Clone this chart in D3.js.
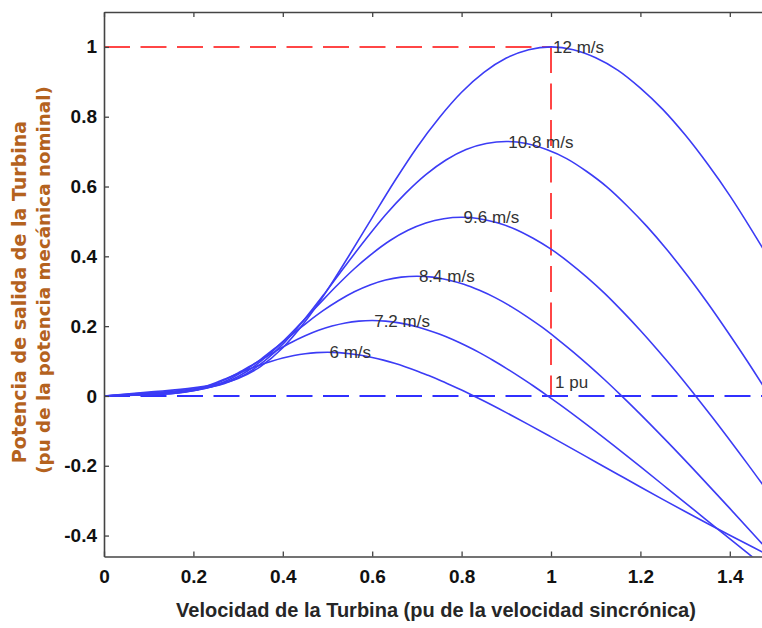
<!DOCTYPE html>
<html>
<head>
<meta charset="utf-8">
<script src="https://cdn.jsdelivr.net/npm/d3@7"></script>
<style>
  body { margin: 0; background: #fff; }
  svg { display: block; }
</style>
</head>
<body>
<div class="chart"></div>
<script>
// values, one x / y pair of arrays per wind speed
var x6 = [0,0.05,0.1,0.15,0.175,0.2,0.225,0.25,0.275,0.3,0.325,0.35,0.375,0.4,0.425,0.45,0.475,0.5,0.525,0.55,0.575,0.6,0.625,0.65,0.675,0.7,0.725,0.75,0.775,0.8,0.825,0.85,0.9,0.95,1.0,1.05,1.1,1.15,1.2,1.25,1.3,1.35,1.4,1.45,1.5];
var y6 = [0,0.0014,0.0029,0.0063,0.0105,0.0173,0.0266,0.038,0.0508,0.0639,0.0769,0.089,0.0996,0.1088,0.1159,0.121,0.124,0.125,0.124,0.1211,0.1166,0.1103,0.1026,0.0935,0.0831,0.0718,0.0591,0.0458,0.0316,0.0169,0.0014,-0.0145,-0.0477,-0.0821,-0.1174,-0.1531,-0.1891,-0.225,-0.2608,-0.2962,-0.3311,-0.3655,-0.3992,-0.4323,-0.4647];

var x72 = [0,0.06,0.12,0.18,0.21,0.24,0.27,0.3,0.33,0.36,0.39,0.42,0.45,0.48,0.51,0.54,0.57,0.6,0.63,0.66,0.69,0.72,0.75,0.78,0.81,0.84,0.87,0.9,0.93,0.96,0.99,1.02,1.08,1.14,1.2,1.26,1.32,1.38,1.44,1.5,1.56];
var y72 = [0,0.0024,0.005,0.0108,0.0181,0.0298,0.046,0.0657,0.0877,0.1104,0.1328,0.1538,0.1722,0.1879,0.2002,0.2091,0.2143,0.216,0.2143,0.2093,0.2015,0.1905,0.1773,0.1616,0.1436,0.124,0.1022,0.0791,0.0546,0.0292,0.0024,-0.0251,-0.0824,-0.1419,-0.2028,-0.2646,-0.3267,-0.3889,-0.4506,-0.5117,-0.5721];

var x84 = [0,0.07,0.14,0.21,0.245,0.28,0.315,0.35,0.385,0.42,0.455,0.49,0.525,0.56,0.595,0.63,0.665,0.7,0.735,0.77,0.805,0.84,0.875,0.91,0.945,0.98,1.015,1.05,1.085,1.12,1.155,1.19,1.26,1.33,1.4,1.47,1.54];
var y84 = [0,0.0038,0.0079,0.0172,0.0287,0.0473,0.0731,0.1043,0.1393,0.1753,0.2109,0.2442,0.2734,0.2984,0.318,0.332,0.3403,0.343,0.3403,0.3324,0.32,0.3025,0.2816,0.2566,0.2281,0.1969,0.1622,0.1255,0.0868,0.0463,0.0038,-0.0398,-0.1309,-0.2253,-0.3221,-0.4202,-0.5189];

var x96 = [0,0.08,0.16,0.24,0.28,0.32,0.36,0.4,0.44,0.48,0.52,0.56,0.6,0.64,0.68,0.72,0.76,0.8,0.84,0.88,0.92,0.96,1.0,1.04,1.08,1.12,1.16,1.2,1.24,1.28,1.32,1.36,1.44,1.52];
var y96 = [0,0.0056,0.0118,0.0256,0.0429,0.0707,0.109,0.1556,0.2079,0.2616,0.3149,0.3645,0.408,0.4454,0.4746,0.4956,0.5079,0.512,0.5079,0.4961,0.4777,0.4516,0.4204,0.383,0.3405,0.2939,0.2422,0.1874,0.1295,0.0691,0.0056,-0.0594,-0.1953,-0.3363];

var x108 = [0,0.09,0.18,0.27,0.315,0.36,0.405,0.45,0.495,0.54,0.585,0.63,0.675,0.72,0.765,0.81,0.855,0.9,0.945,0.99,1.035,1.08,1.125,1.17,1.215,1.26,1.305,1.35,1.395,1.44,1.485,1.53];
var y108 = [0,0.008,0.017,0.036,0.061,0.101,0.155,0.222,0.296,0.373,0.448,0.519,0.581,0.634,0.676,0.706,0.723,0.729,0.723,0.706,0.68,0.643,0.599,0.545,0.485,0.418,0.345,0.267,0.184,0.098,0.008,-0.085];

var x12 = [0,0.1,0.2,0.3,0.35,0.4,0.45,0.5,0.55,0.6,0.65,0.7,0.75,0.8,0.85,0.9,0.95,1.0,1.05,1.1,1.15,1.2,1.25,1.3,1.35,1.4,1.45,1.5,1.55];
var y12 = [0,0.011,0.023,0.05,0.084,0.138,0.213,0.304,0.406,0.511,0.615,0.712,0.797,0.87,0.927,0.968,0.992,1.0,0.992,0.969,0.933,0.882,0.821,0.748,0.665,0.574,0.473,0.366,0.253];

var speedLabels = ["6 m/s", "7.2 m/s", "8.4 m/s", "9.6 m/s", "10.8 m/s", "12 m/s"];
var peakX = [0.5, 0.6, 0.7, 0.8, 0.9, 1.0];
var peakY = [0.125, 0.216, 0.343, 0.512, 0.729, 1.0];

var xTicks = [0, 0.2, 0.4, 0.6, 0.8, 1, 1.2, 1.4];
var xTickLabels = ["0", "0.2", "0.4", "0.6", "0.8", "1", "1.2", "1.4"];
var yTicks = [-0.4, -0.2, 0, 0.2, 0.4, 0.6, 0.8, 1];
var yTickLabels = ["-0.4", "-0.2", "0", "0.2", "0.4", "0.6", "0.8", "1"];

var W = 762, H = 628;
var plotL = 104, plotT = 12, plotB = 556.5, plotR = 774.5;

var svg = d3.select("div.chart")
            .append("svg")
            .attr("width", W)
            .attr("height", H);

svg.append("rect").attr("width", W).attr("height", H).attr("fill", "#fff");

var x = d3.scaleLinear().domain([0, 1.5]).range([plotL, plotR]);
var y = d3.scaleLinear().domain([-0.46, 1.1]).range([plotB, plotT]);

svg.append("defs").append("clipPath")
   .attr("id", "plot")
   .append("rect")
     .attr("x", plotL).attr("y", plotT)
     .attr("width", plotR - plotL).attr("height", plotB - plotT);

var plot = svg.append("g").attr("clip-path", "url(#plot)");

// reference lines
plot.append("path")
    .attr("d", d3.line()([[x(0), y(1)], [x(1), y(1)]]))
    .attr("stroke", "#ff4646").attr("stroke-width", 2)
    .attr("stroke-dasharray", "26,10.5").attr("fill", "none");
plot.append("path")
    .attr("d", d3.line()([[x(1), y(1)], [x(1), y(0)]]))
    .attr("stroke", "#ff4646").attr("stroke-width", 2)
    .attr("stroke-dasharray", "26,10.5").attr("fill", "none");
plot.append("path")
    .attr("d", d3.line()([[x(0), y(0)], [x(1.5), y(0)]]))
    .attr("stroke", "#3030ff").attr("stroke-width", 2)
    .attr("stroke-dasharray", "26,10.5").attr("fill", "none");

// power curves
var curves = [[x6, y6], [x72, y72], [x84, y84], [x96, y96], [x108, y108], [x12, y12]];

var line = d3.line()
    .x(function(d){ return x(d[0]); })
    .y(function(d){ return y(d[1]); })
    .curve(d3.curveMonotoneX);

plot.selectAll(".curve")
    .data(curves)
    .enter()
    .append("path")
      .attr("class", "curve")
      .attr("d", function(d){ return line(d3.zip(d[0], d[1])); })
      .attr("fill", "none")
      .attr("stroke", "#3c3cf5")
      .attr("stroke-width", 1.6);

// speed labels at each peak
svg.selectAll(".speed")
   .data(speedLabels)
   .enter()
   .append("text")
     .attr("class", "speed")
     .attr("x", function(d, i){ return x(peakX[i]) + 2; })
     .attr("y", function(d, i){ return y(peakY[i]); })
     .attr("dy", "0.36em")
     .attr("font-family", "'Liberation Sans', Arial, sans-serif")
     .attr("font-size", 17)
     .attr("fill", "#333")
     .text(function(d){ return d; });

svg.append("text")
   .attr("x", x(1) + 4)
   .attr("y", y(0.04))
   .attr("dy", "0.36em")
   .attr("font-family", "'Liberation Sans', Arial, sans-serif")
   .attr("font-size", 17)
   .attr("fill", "#333")
   .text("1 pu");

// axes
var tickFont = "'Liberation Sans', Arial, sans-serif";

var gx = svg.append("g")
    .attr("transform", "translate(0," + plotB + ")")
    .call(d3.axisBottom(x).tickValues(xTicks)
            .tickFormat(function(d, i){ return xTickLabels[i]; })
            .tickSizeInner(-5).tickSizeOuter(0).tickPadding(13));

var gt = svg.append("g")
    .attr("transform", "translate(0," + plotT + ")")
    .call(d3.axisTop(x).tickValues(xTicks).tickFormat("")
            .tickSizeInner(-5).tickSizeOuter(0));

var gy = svg.append("g")
    .attr("transform", "translate(" + plotL + ",0)")
    .call(d3.axisLeft(y).tickValues(yTicks)
            .tickFormat(function(d, i){ return yTickLabels[i]; })
            .tickSizeInner(-5).tickSizeOuter(0).tickPadding(7));

[gx, gt, gy].forEach(function(g){
  g.select(".domain").attr("stroke", "#444").attr("stroke-width", 1.6);
  g.selectAll(".tick line").attr("stroke", "#444").attr("stroke-width", 1.3);
  g.selectAll(".tick text")
    .attr("font-family", tickFont)
    .attr("font-weight", "bold")
    .attr("font-size", 19)
    .attr("fill", "#111");
});

// axis titles
svg.append("text")
   .attr("x", 436)
   .attr("y", 617)
   .attr("text-anchor", "middle")
   .attr("font-family", "'Liberation Sans', Arial, sans-serif")
   .attr("font-weight", "bold")
   .attr("font-size", 20)
   .attr("fill", "#262626")
   .text("Velocidad de la Turbina (pu de la velocidad sincrónica)");

svg.append("text")
   .attr("transform", "translate(26,292) rotate(-90)")
   .attr("text-anchor", "middle")
   .attr("font-family", "'DejaVu Sans', Verdana, sans-serif")
   .attr("font-weight", "bold")
   .attr("font-size", 19)
   .attr("fill", "#b4621e")
   .text("Potencia de salida de la Turbina");

svg.append("text")
   .attr("transform", "translate(50,280) rotate(-90)")
   .attr("text-anchor", "middle")
   .attr("font-family", "'DejaVu Sans', Verdana, sans-serif")
   .attr("font-weight", "bold")
   .attr("font-size", 18.3)
   .attr("fill", "#b4621e")
   .text("(pu de la potencia mecánica nominal)");
</script>
</body>
</html>
